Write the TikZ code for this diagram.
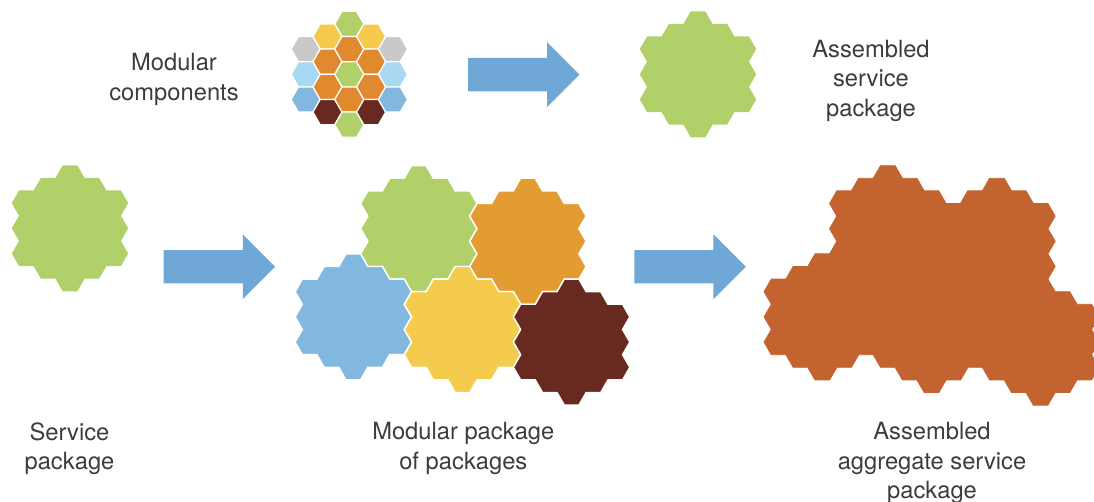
\documentclass[tikz,border=0pt]{standalone}
\usepackage{fontspec}
\setmainfont{TeX Gyre Heros}
\usepackage{xcolor}
\usepackage{tikz}
\usetikzlibrary{shapes,arrows,positioning}

\definecolor{hgreen}{HTML}{B2D06A}
\definecolor{horange}{HTML}{E0892F}
\definecolor{hgold}{HTML}{E39C32}
\definecolor{hyellow}{HTML}{F4CB4C}
\definecolor{hgrey}{HTML}{C9C9C9}
\definecolor{hsky}{HTML}{A9D8F3}
\definecolor{hblue}{HTML}{82B8E0}
\definecolor{hbrown}{HTML}{672920}
\definecolor{hrust}{HTML}{C3632F}
\definecolor{arrowblue}{HTML}{6FA8D6}
\definecolor{labelgrey}{HTML}{3C3C3C}

\begin{document}
\begin{tikzpicture}[
    x=0.02cm, y=-0.02cm,
    caption/.style={anchor=north, align=center, inner sep=0pt, text=labelgrey, font=\fontsize{13.5}{16.8}\selectfont},
    bigarrow/.style={single arrow, fill=arrowblue, draw=none, anchor=tail, inner xsep=0pt, inner ysep=0.327cm,
        minimum height=2.23cm, minimum width=1.28cm, single arrow head extend=0.313cm},
    cell/.pic={\path[pic actions] (-14.55,0) -- (-7.28,-12.6) -- (7.28,-12.6) -- (14.55,0)
        -- (7.28,12.6) -- (-7.28,12.6) -- cycle;},
    pkg/.pic={\path[pic actions] (-7.28,-63) -- (7.28,-63) -- (14.55,-50.4) -- (29.1,-50.4)
        -- (36.38,-37.8) -- (50.93,-37.8) -- (58.2,-25.2) -- (50.93,-12.6) -- (58.2,0)
        -- (50.93,12.6) -- (58.2,25.2) -- (50.93,37.8) -- (36.38,37.8) -- (29.1,50.4)
        -- (14.55,50.4) -- (7.28,63) -- (-7.28,63) -- (-14.55,50.4) -- (-29.1,50.4)
        -- (-36.38,37.8) -- (-50.93,37.8) -- (-58.2,25.2) -- (-50.93,12.6) -- (-58.2,0)
        -- (-50.93,-12.6) -- (-58.2,-25.2) -- (-50.93,-37.8) -- (-36.38,-37.8)
        -- (-29.1,-50.4) -- (-14.55,-50.4) -- cycle;},
    incell/.style={draw=white, line width=0.7pt},
    inpkg/.style={draw=white, line width=0.8pt},
    merged/.style={fill=hrust, draw=hrust, line width=0.5pt}
]
    \useasboundingbox (0,0) rectangle (1094,502);

    % modular components
    \foreach \c/\m/\col in {-2/-2/hgrey, -2/0/hsky, -2/2/hblue,
        -1/-3/hyellow, -1/-1/horange, -1/1/horange, -1/3/hbrown,
        0/-4/hgreen, 0/-2/horange, 0/0/hgreen, 0/2/horange, 0/4/hgreen,
        1/-3/hyellow, 1/-1/horange, 1/1/horange, 1/3/hbrown,
        2/-2/hgrey, 2/0/hsky, 2/2/hblue}
        \pic[fill=\col, incell] at (349.3+21.83*\c, 74.3+12.6*\m) {cell};

    \pic[fill=hgreen] at (698,74.3) {pkg};
    \pic[fill=hgreen] at (70,228.3) {pkg};

    % package of packages
    \pic[fill=hgreen, inpkg] at (418.8,228.7) {pkg};
    \pic[fill=hgold, inpkg] at (527.9,241.3) {pkg};
    \pic[fill=hblue, inpkg] at (353.3,316.9) {pkg};
    \pic[fill=hyellow, inpkg] at (462.5,329.5) {pkg};
    \pic[fill=hbrown, inpkg] at (571.6,342.1) {pkg};

    % aggregate
    \foreach \px/\py in {418.8/228.7, 527.9/241.3, 353.3/316.9, 462.5/329.5, 571.6/342.1}
        \pic[merged] at (\px+469,\py) {pkg};

    \node[bigarrow] (arrowtop) at (467.7,74.7) {};
    \node[bigarrow] (arrowleft) at (163.3,266.8) {};
    \node[bigarrow] (arrowright) at (634,266.8) {};

    \node[caption] (components) at (174,53) {Modular\\components};
    \node[caption] (assembled) at (871,39.7) {Assembled\\service\\package};
    \node[caption] (service) at (69.5,422.3) {Service\\package};
    \node[caption] (packages) at (463.3,422.3) {Modular package\\of packages};
    \node[caption] (aggregate) at (932,422.3) {Assembled\\aggregate service\\package};
\end{tikzpicture}
\end{document}
